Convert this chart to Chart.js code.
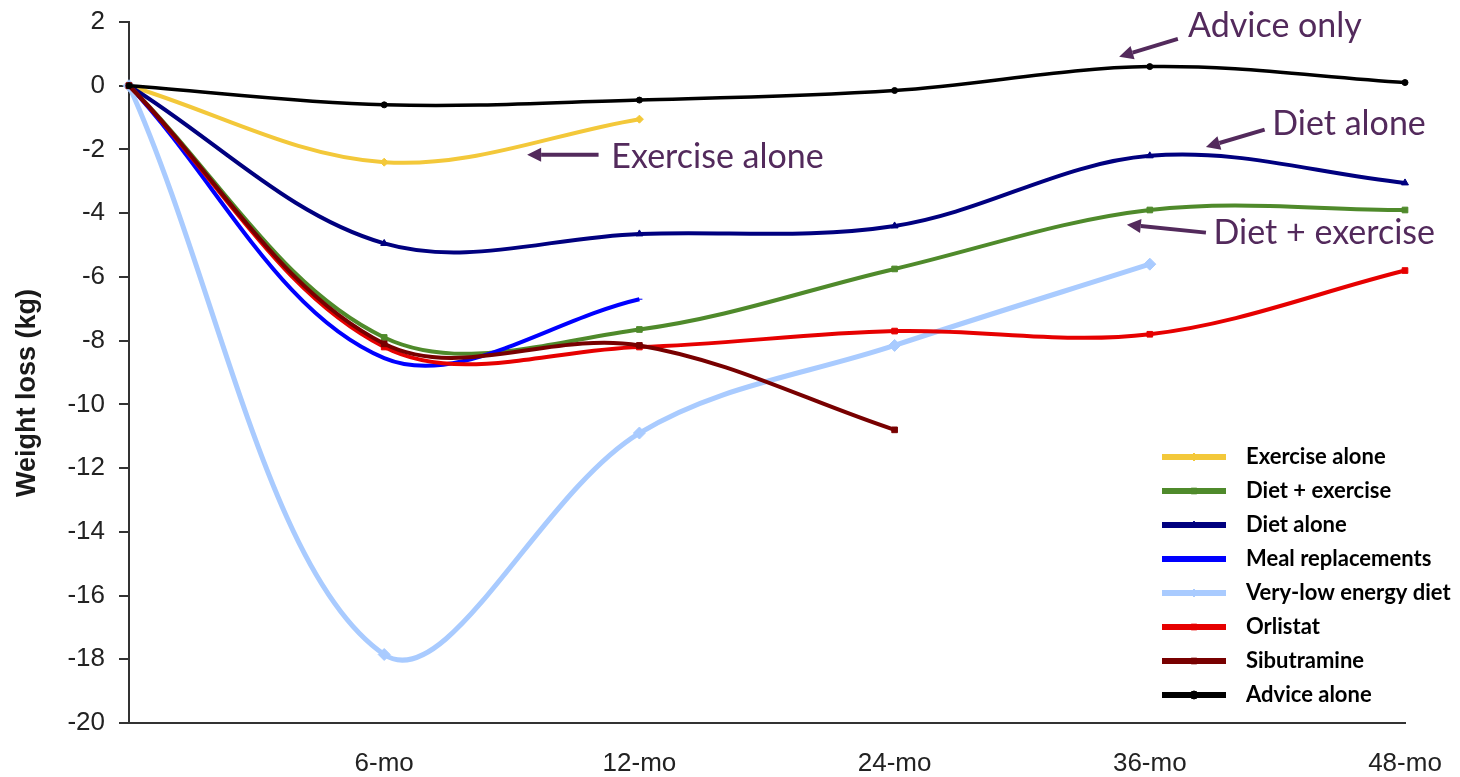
<!DOCTYPE html>
<html>
<head>
<meta charset="utf-8">
<title>Weight loss by intervention</title>
<script src="https://cdn.jsdelivr.net/npm/chart.js@4/dist/chart.umd.min.js"></script>
<style>
  html, body { margin: 0; padding: 0; background: #fff; }
  #wrap { width: 1460px; height: 777px; position: relative; }
</style>
</head>
<body>
<div id="wrap"><canvas id="myChart"></canvas></div>
<script>
'use strict';

// x categories (first one is baseline, unlabeled)
const months = ['', '6-mo', '12-mo', '24-mo', '36-mo', '48-mo'];

// weight change in kg
const exerciseAlone    = [0, -2.4, -1.05, null, null, null];
const dietExercise     = [0, -7.9, -7.65, -5.75, -3.9, -3.9];
const dietAlone        = [0, -4.95, -4.65, -4.4, -2.2, -3.05];
const mealReplacements = [0, -8.55, -6.7, null, null, null];
const veryLowEnergy    = [0, -17.85, -10.9, -8.15, -5.6, null];
const orlistat         = [0, -8.2, -8.2, -7.7, -7.8, -5.8];
const sibutramine      = [0, -8.1, -8.15, -10.8, null, null];
const adviceAlone      = [0, -0.6, -0.45, -0.15, 0.6, 0.1];

const yTicks = [2, 0, -2, -4, -6, -8, -10, -12, -14, -16, -18, -20];

// callouts: [text, text x idx, baseline value, arrow tail idx, tail value, tip idx, tip value]
const callouts = [
  ['Advice only',     4.15,  1.54, 4.11,  1.47, 3.88,  0.91],
  ['Diet alone',      4.48, -1.54, 4.45, -1.38, 4.22, -1.92],
  ['Diet + exercise', 4.25, -4.96, 4.22, -4.61, 3.91, -4.36],
  ['Exercise alone',  1.89, -2.57, 1.84, -2.17, 1.56, -2.17]
];

function ds(label, data, color, style, width, radius) {
  return {
    label: label,
    data: data,
    borderColor: color,
    backgroundColor: color,
    borderWidth: width,
    pointStyle: style,
    pointRadius: radius,
    pointBorderWidth: 1,
    tension: 0.35,
    spanGaps: false
  };
}

const datasets = [
  ds('Advice alone', adviceAlone, '#000000', 'circle', 3.5, 3),
  ds('Sibutramine', sibutramine, '#780000', 'rect', 4, 4),
  ds('Orlistat', orlistat, '#e60000', 'rect', 4, 4),
  ds('Very-low energy diet', veryLowEnergy, '#a9cbff', 'rectRot', 5, 6),
  ds('Meal replacements', mealReplacements, '#0000ff', 'line', 4, 3),
  ds('Diet alone', dietAlone, '#00007f', 'triangle', 4, 4),
  ds('Diet + exercise', dietExercise, '#4f8a2b', 'rect', 4, 4),
  ds('Exercise alone', exerciseAlone, '#f3c83a', 'rectRot', 4, 4)
];

// legend order as in the figure
const legendOrder = ['Exercise alone', 'Diet + exercise', 'Diet alone', 'Meal replacements',
  'Very-low energy diet', 'Orlistat', 'Sibutramine', 'Advice alone'];

const overlayPlugin = {
  id: 'overlay',
  afterDraw(chart) {
    const ctx = chart.ctx;
    const x = chart.scales.x, y = chart.scales.y;
    const area = chart.chartArea;

    // y axis title
    ctx.save();
    ctx.translate(28, 393);
    ctx.rotate(-Math.PI / 2);
    ctx.font = 'bold 27px "Liberation Sans", Arial, sans-serif';
    ctx.fillStyle = '#1a1a1a';
    ctx.textAlign = 'center';
    ctx.textBaseline = 'middle';
    ctx.fillText('Weight loss (kg)', 0, 0);
    ctx.restore();

    // callouts with arrows
    ctx.save();
    const purple = '#532a5c';
    ctx.font = '34px Lato, "Open Sans", sans-serif';
    ctx.fillStyle = purple;
    ctx.strokeStyle = purple;
    ctx.lineWidth = 4;
    ctx.textBaseline = 'alphabetic';
    callouts.forEach(function (c) {
      ctx.fillText(c[0], x.getPixelForValue(c[1]), y.getPixelForValue(c[2]));
      const x0 = x.getPixelForValue(c[3]), y0 = y.getPixelForValue(c[4]);
      const x1 = x.getPixelForValue(c[5]), y1 = y.getPixelForValue(c[6]);
      const ang = Math.atan2(y1 - y0, x1 - x0);
      const headLen = 14, headW = 7;
      const bx = x1 - headLen * Math.cos(ang), by = y1 - headLen * Math.sin(ang);
      ctx.beginPath();
      ctx.moveTo(x0, y0);
      ctx.lineTo(bx, by);
      ctx.stroke();
      ctx.beginPath();
      ctx.moveTo(x1, y1);
      ctx.lineTo(bx + headW * Math.sin(ang), by - headW * Math.cos(ang));
      ctx.lineTo(bx - headW * Math.sin(ang), by + headW * Math.cos(ang));
      ctx.closePath();
      ctx.fill();
    });
    ctx.restore();

    // legend, bottom right inside plot
    ctx.save();
    const lx = area.right - 243, ly = area.bottom - 266, rowH = 34;
    ctx.font = 'bold 22px Lato, "Open Sans", sans-serif';
    ctx.textBaseline = 'middle';
    legendOrder.forEach(function (name, i) {
      const d = chart.data.datasets.find(function (s) { return s.label === name; });
      const cy = ly + i * rowH;
      ctx.strokeStyle = d.borderColor;
      ctx.lineWidth = 6;
      ctx.beginPath();
      ctx.moveTo(lx, cy);
      ctx.lineTo(lx + 64, cy);
      ctx.stroke();
      ctx.fillStyle = d.borderColor;
      ctx.strokeStyle = d.borderColor;
      ctx.lineWidth = 1;
      if (d.pointStyle !== 'line') {
        Chart.helpers.drawPoint(ctx, { pointStyle: d.pointStyle, radius: 4, rotation: 0, borderWidth: 1 }, lx + 32, cy);
      }
      ctx.fillStyle = '#000';
      ctx.fillText(name, lx + 84, cy);
    });
    ctx.restore();
  }
};

const ctx = document.getElementById('myChart').getContext('2d');
const chart = new Chart(ctx, {
  type: 'line',
  data: { labels: months, datasets: datasets },
  options: {
    responsive: true,
    maintainAspectRatio: false,
    animation: false,
    layout: { padding: { top: 22, right: 55, bottom: 0, left: 0 } },
    plugins: {
      legend: { display: false },
      tooltip: { enabled: false }
    },
    scales: {
      x: {
        offset: false,
        grid: { display: false, drawTicks: false },
        border: { display: true, color: '#333', width: 2 },
        ticks: {
          padding: 25,
          color: '#222',
          font: { family: '"Liberation Sans", Arial, sans-serif', size: 26 },
          maxRotation: 0,
          autoSkip: false
        },
        afterFit(scale) {
          scale.height = 54;
          scale.paddingLeft = 0;
          scale.paddingRight = 0;
        }
      },
      y: {
        min: -20,
        max: 2,
        afterBuildTicks(scale) { scale.ticks = yTicks.map(function (v) { return { value: v }; }); },
        grid: { display: true, drawOnChartArea: false, drawTicks: true, tickLength: 10, color: '#333', lineWidth: 2 },
        border: { display: true, color: '#333', width: 2 },
        ticks: {
          padding: 14,
          color: '#222',
          font: { family: '"Liberation Sans", Arial, sans-serif', size: 26 }
        },
        afterFit(scale) {
          scale.width = 129;
          scale.paddingTop = 0;
          scale.paddingBottom = 0;
        }
      }
    }
  },
  plugins: [overlayPlugin]
});
</script>
</body>
</html>
